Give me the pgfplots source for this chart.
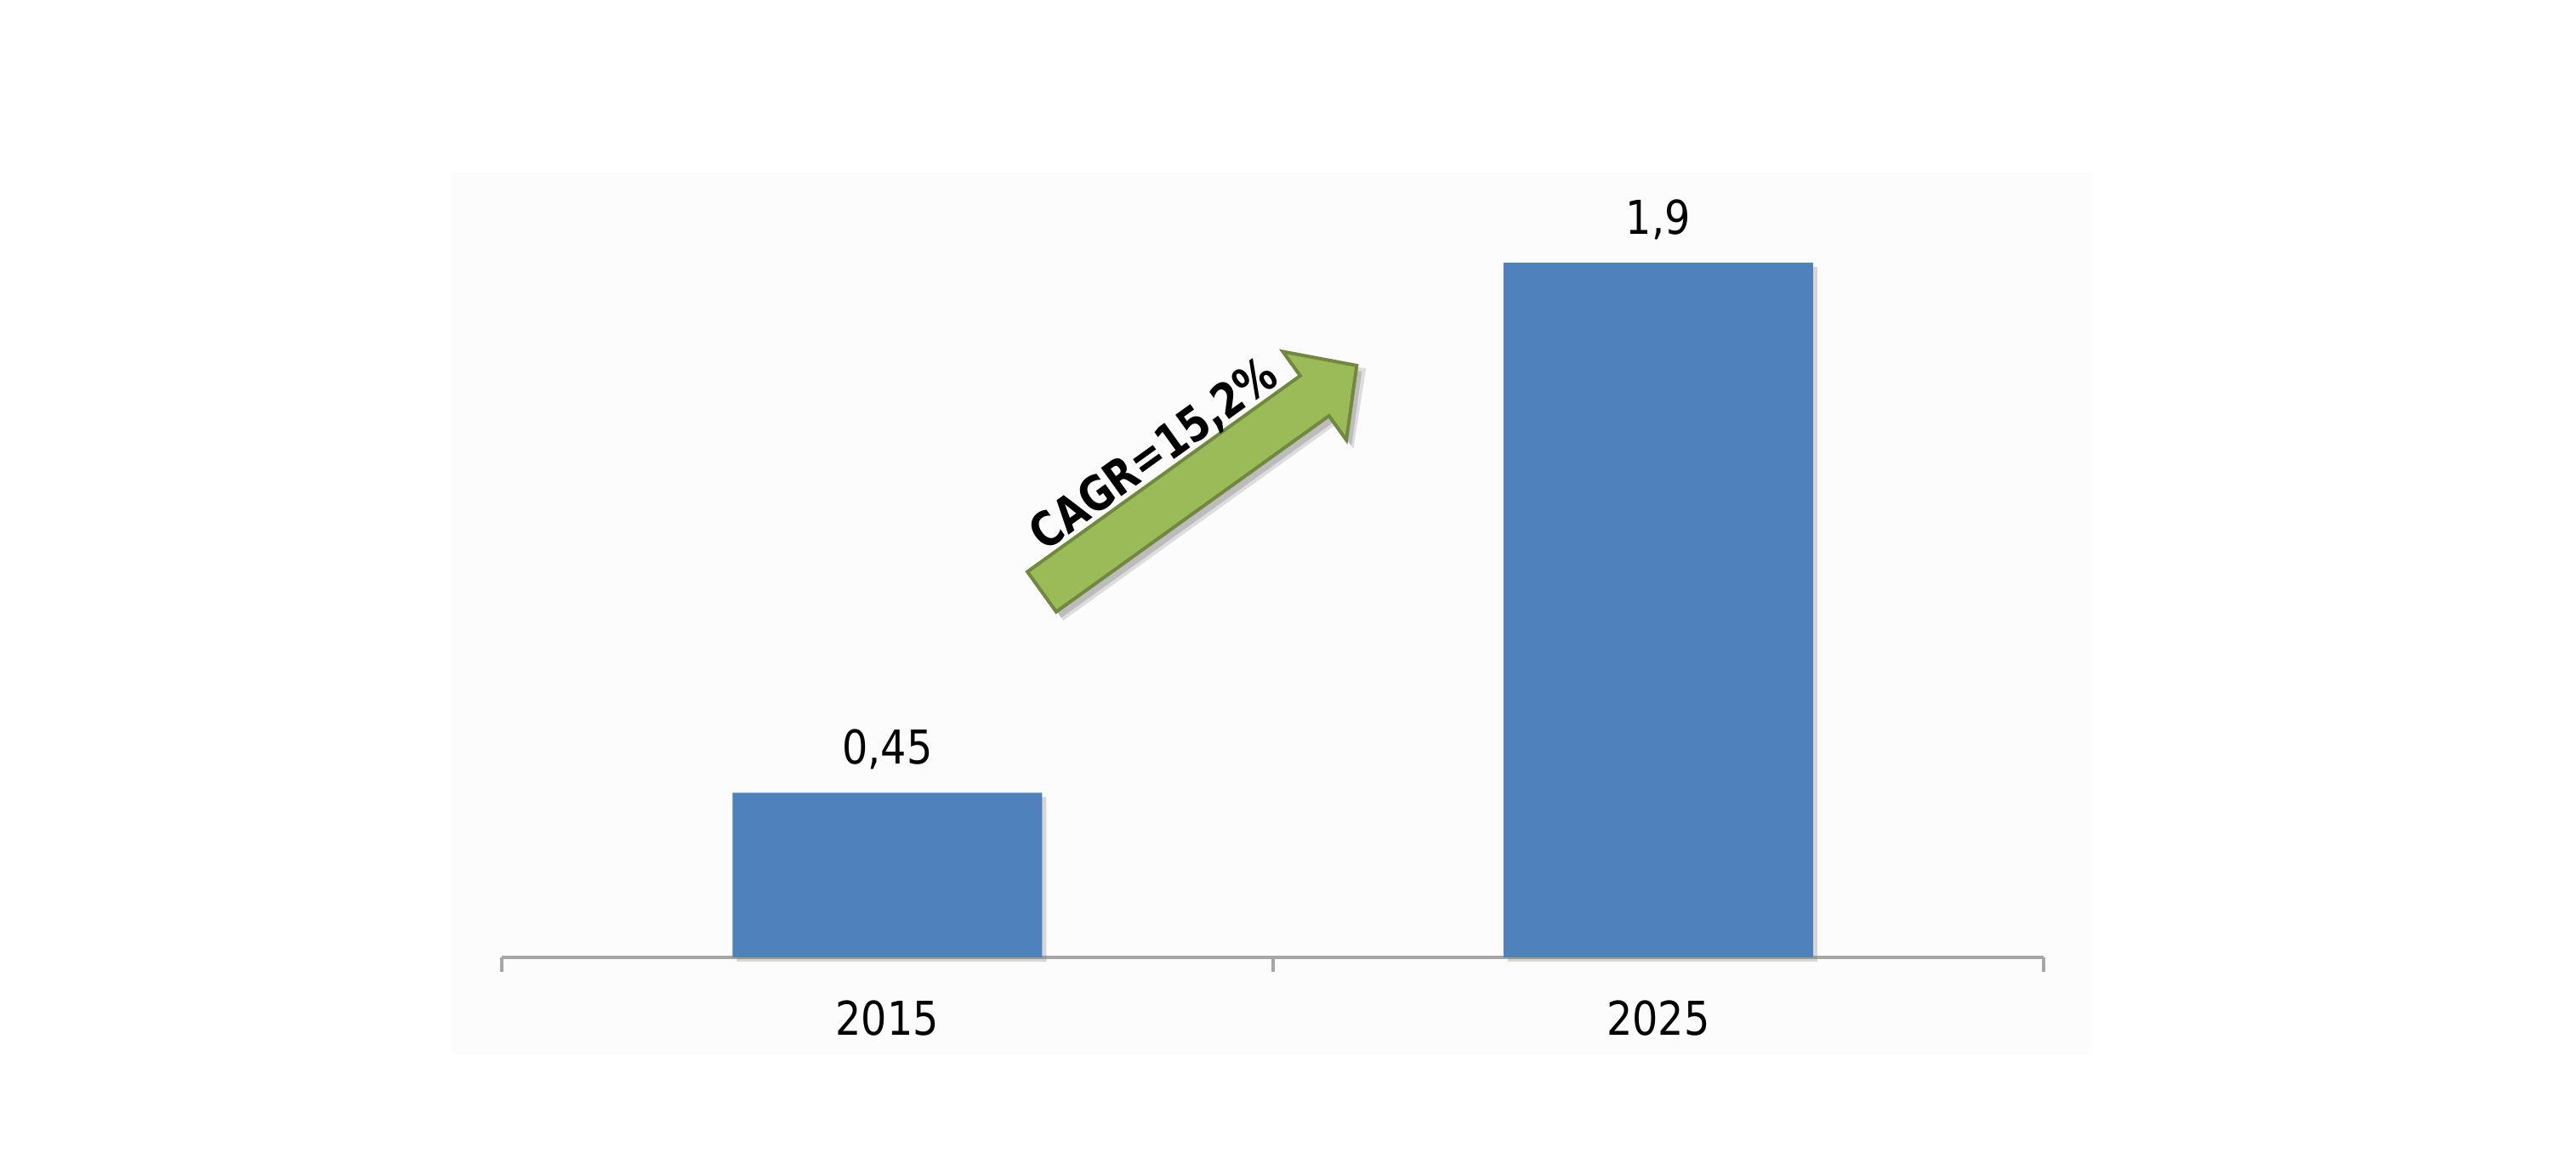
\documentclass[border=0pt]{standalone}
\usepackage{pgfplots}
\pgfplotsset{compat=1.18}
\usepackage{pgfplotstable}
\usepackage{fontspec}
\setmainfont{DejaVu Sans}[FakeStretch=0.87]
\newfontfamily\cagrfont{DejaVu Sans}[FakeStretch=0.82]
\usetikzlibrary{shadows}
\definecolor{barblue}{HTML}{4F81BD}
\definecolor{arrowgreen}{HTML}{9BBB59}
\definecolor{arrowdark}{HTML}{71893F}
\definecolor{axisgray}{HTML}{A6A6A6}
\definecolor{bggray}{HTML}{FCFCFC}
\newcommand{\labelfont}{\fontsize{15.6}{18}\selectfont}
\pgfplotstableread{
x y lab
0 0.45 0,45
1 1.9 1,9
}\datatable
\begin{document}
\begin{tikzpicture}
\useasboundingbox (0,0) rectangle (30.29,13.69);
\fill[bggray] (5.31,1.29) rectangle (24.60,11.66);
\begin{axis}[
  at={(5.90cm,2.43cm)}, anchor=south west,
  scale only axis, width=18.13cm, height=9.23cm,
  xmin=-0.5, xmax=1.5, ymin=0, ymax=2.146,
  hide y axis,
  axis x line*=bottom,
  x axis line style={draw=axisgray, line width=0.04cm},
  xtick={0,1}, xticklabels={2015,2025},
  major tick length=0pt,
  minor xtick={-0.5,0.5,1.5},
  minor tick length=0.17cm,
  xtick align=outside,
  minor tick style={draw=axisgray, line width=0.04cm},
  xticklabel style={anchor=base, yshift=-0.92cm, font=\labelfont},
  ybar, bar width=3.64cm,
  nodes near coords, point meta=explicit symbolic,
  every node near coord/.append style={anchor=base, yshift=0.335cm, font=\labelfont, text=black},
  clip=false,
]
\addplot[fill=barblue, draw=none, drop shadow={shadow xshift=0.05cm, shadow yshift=-0.05cm, opacity=0.3}]
  table[x=x, y=y, meta=lab] {\datatable};
\end{axis}
% CAGR arrow shadow
\begin{scope}[shift={(12.31,6.66)}, rotate=35.7]
\fill[black, opacity=0.12] (0,-0.33) -- (3.95,-0.33) -- (3.95,-0.68) -- (4.62,0) -- (3.95,0.68) -- (3.95,0.33) -- (0,0.33) -- cycle;
\fill[black, opacity=0.15] (0,-0.29) -- (3.95,-0.29) -- (3.95,-0.64) -- (4.56,0) -- (3.95,0.64) -- (3.95,0.29) -- (0,0.29) -- cycle;
\end{scope}
% CAGR arrow
\begin{scope}[shift={(12.25,6.73)}, rotate=35.7]
\draw[draw=arrowdark, fill=arrowgreen, line width=0.04cm, line join=miter]
  (0,-0.29) -- (3.95,-0.29) -- (3.95,-0.64) -- (4.56,0) -- (3.95,0.64) -- (3.95,0.29) -- (0,0.29) -- cycle;
\node[anchor=base, inner sep=0pt, rotate=35.7, font=\cagrfont\fontsize{16}{19}\selectfont\bfseries] at (2.01,0.36) {CAGR=15,2\%};
\end{scope}
\end{tikzpicture}
\end{document}
